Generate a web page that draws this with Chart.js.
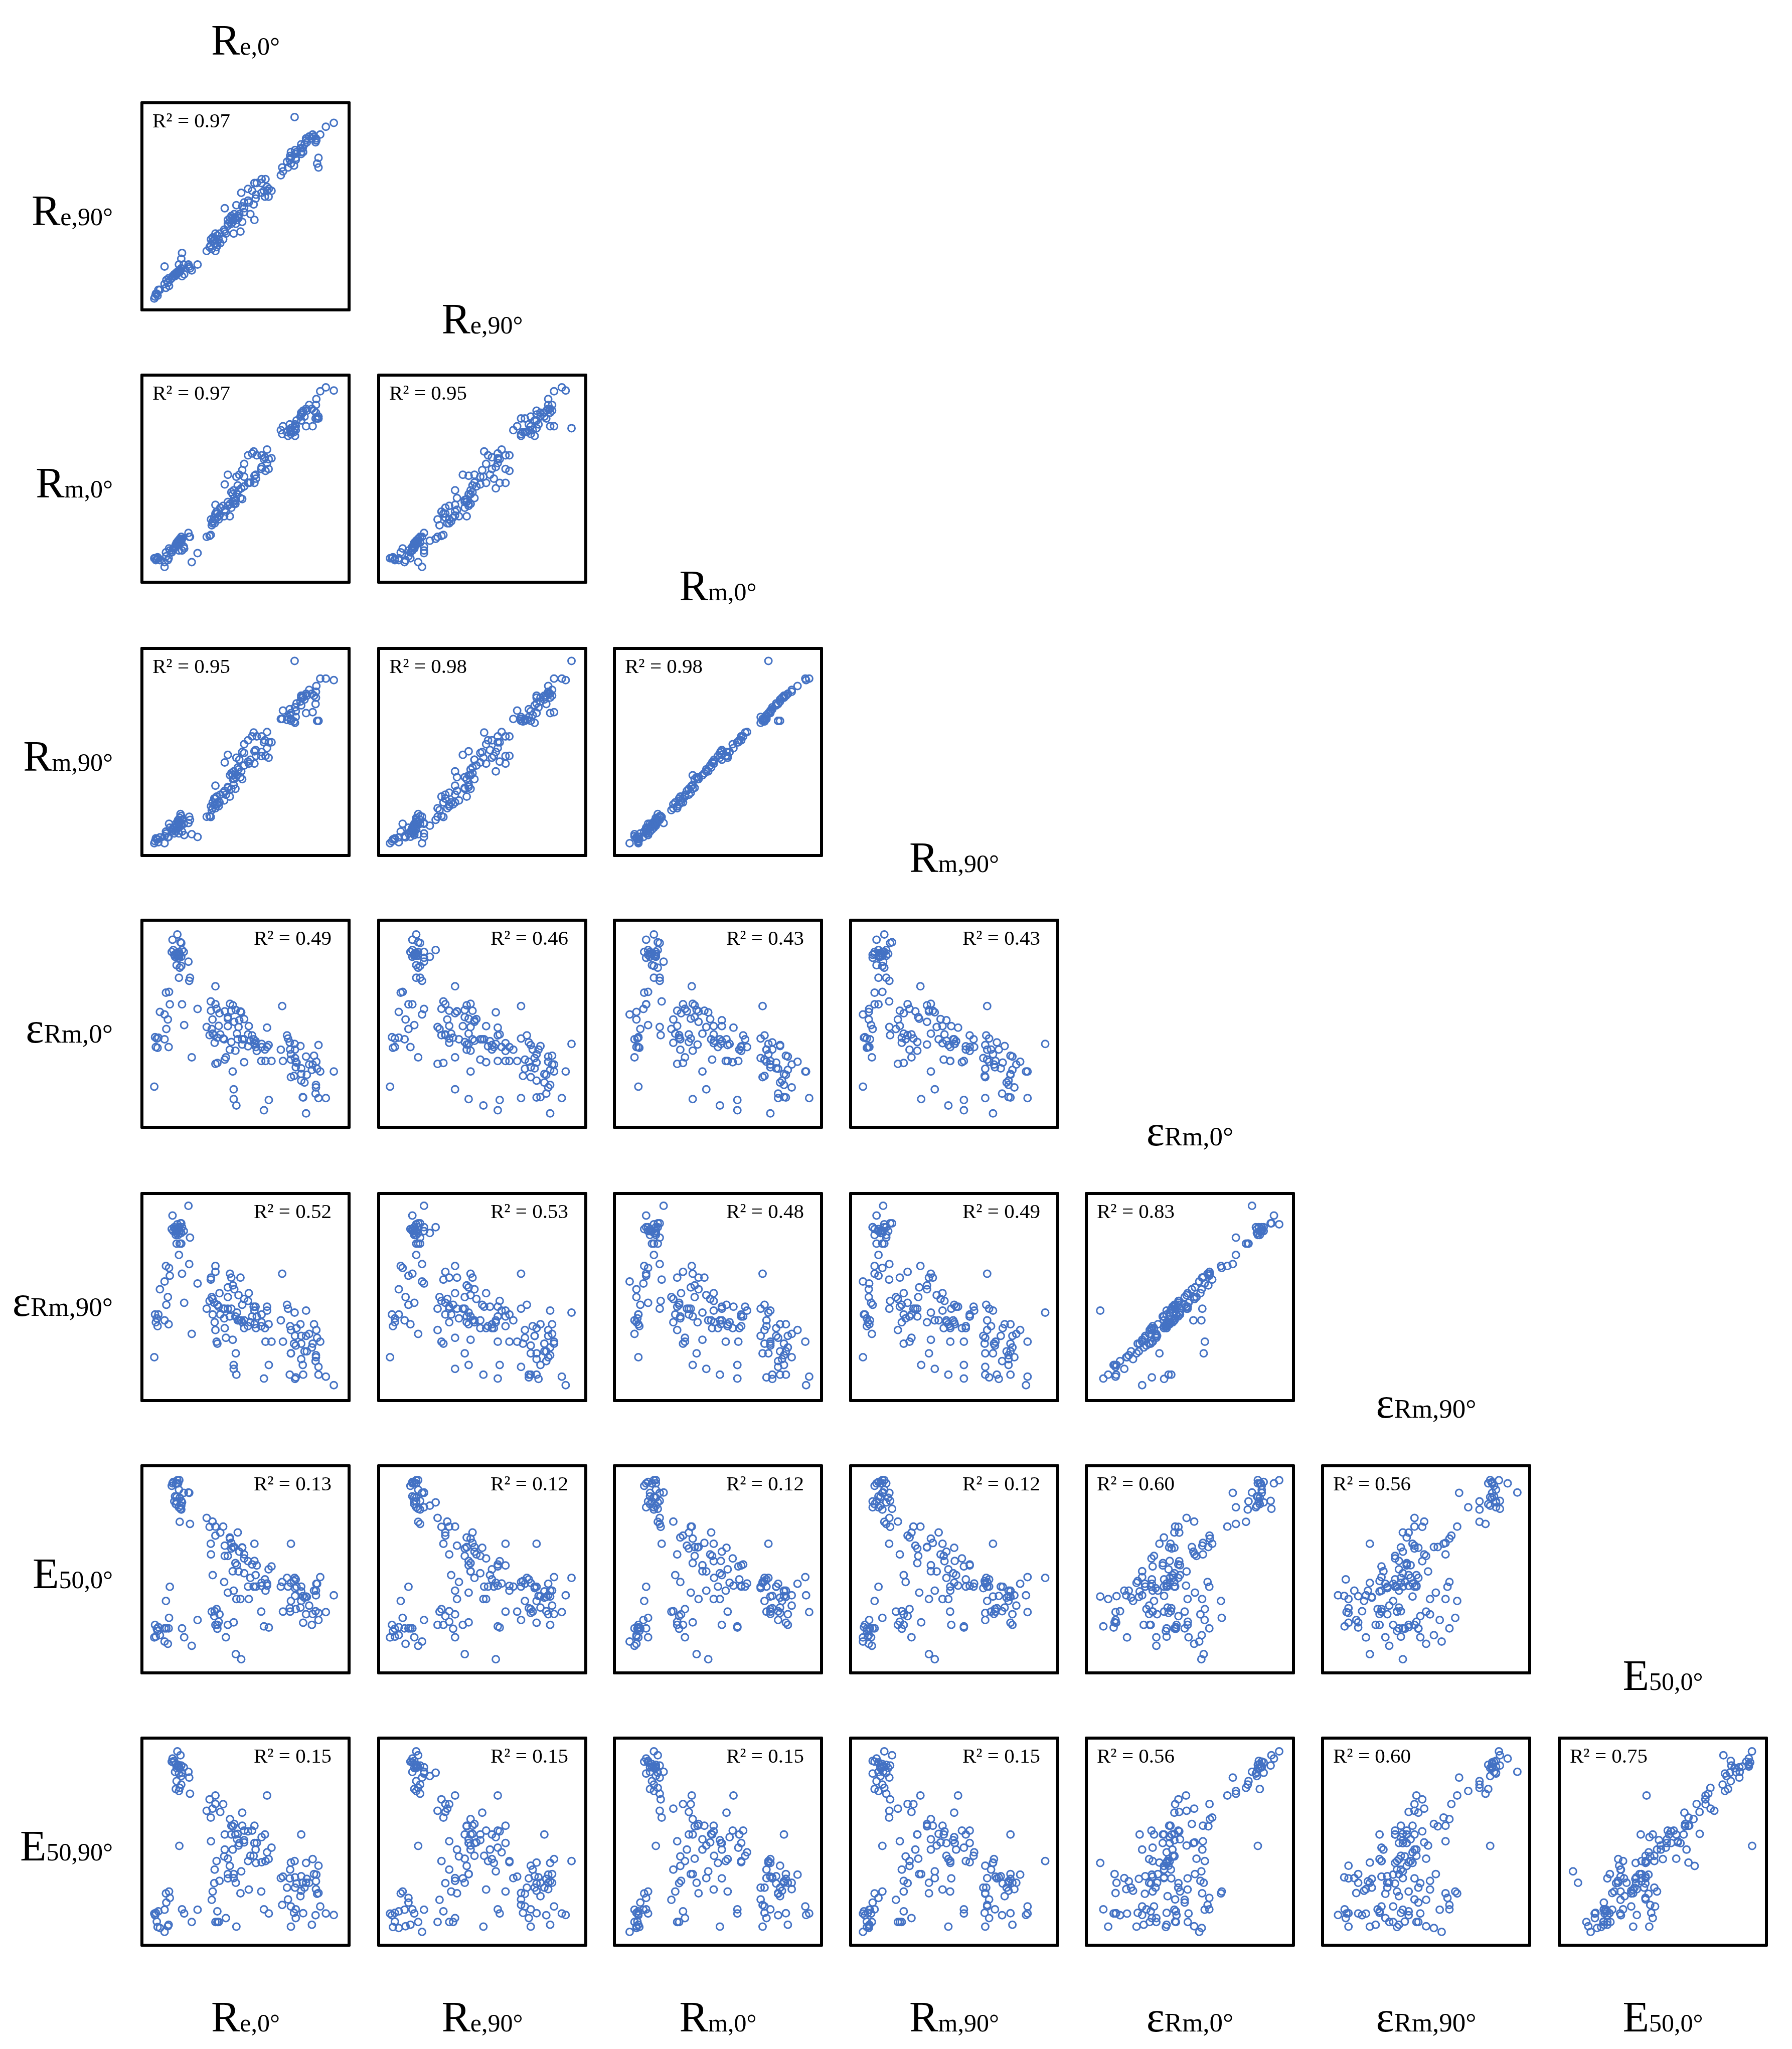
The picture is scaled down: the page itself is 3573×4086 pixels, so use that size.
<!DOCTYPE html>
<html><head><meta charset="utf-8">
<script src="https://cdn.jsdelivr.net/npm/chart.js@4/dist/chart.umd.min.js"></script>
<style>
html,body{margin:0;padding:0;background:#fff}
body{position:relative;width:3573px;height:4086px;overflow:hidden;font-family:"Liberation Serif",serif;color:#000}
.panel{position:absolute;width:407px;height:407px;border:6px solid #000;border-radius:2px;background:#fff}
.panel canvas{display:block}
.lab{position:absolute;line-height:100px;white-space:nowrap;height:100px}
.big{font-size:86px}.sub{font-size:50px}.eps{font-size:86px}.subE{font-size:53px}
.r2{position:absolute;font-size:41px;line-height:50px;white-space:nowrap;height:50px}
</style></head><body>
<script>
// Values, normalised to 0-100 of each variable's range.
const Re0=[3.4,5.1,4.3,8.3,9.2,10.4,4.7,3.8,3,5.9,8.3,10,10.6,9,11,17.3,18.4,25.3,22.3,
14.9,16.5,12.4,12,12.8,14.1,15.3,15.7,16.9,18.2,16.1,14.5,13.7,20.6,17.3,16.9,21,14.5,16.9,14.1,16.1,15.7,21.4,13.3,14.9,15.7,15.9,
30,31.5,32.1,32.2,33,33.1,32.6,33.9,34.1,34.5,34.5,34.5,35.5,35.5,36.2,35.1,36.6,37,38.5,39,
39.3,39.3,39.9,40.9,40.9,40.9,41.9,42,42.7,42.7,43.4,43.5,43.9,43.9,44.2,44.8,45,45.3,45.6,46,
46.4,46.8,47.4,47.8,48.3,48.3,49.3,49.3,49.3,51.3,51.3,51.7,52.5,53.4,54.2,54.6,54.6,55.2,55.4,55.8,
58.1,58.3,58.3,59.5,60,60.3,61.1,61.1,61.9,62,63.4,
68.2,68.9,69.3,71.4,71.9,72.8,73,73.4,73.4,73.4,75,75.3,75.5,75.5,75.9,75.9,76.3,78.3,78.7,78.7,
78.7,79.5,79.7,80.4,81.2,81.2,81.6,82.8,84.2,84.6,85.3,86.5,86.1,86.3,86.3,86.9,87.6,87.6,88.5,91.4,95.5];
const Re90=[3.5,7,5,10,12,13,4,5,2.5,7,19,10.5,9,8,12,14,15,20,17,
16,17,14,13,14,15,16,17,18,20,16,15,14,20,26,23,19,16,18,15,17,16,18,15,16,20,17,
27,29,30,33,32,34,28,31,33,36,31,27,30,35,33,29,36,31,33,38,
49,37,36,41,43,40,42,44,45,41,44,42,43,36,46,44,41,50.6,43,45,
44,46,37,57,50,42,52,49,47,59,53,52,46,58,51,62,43,54,56,62,
62,57,64,58,55,64,60,58,55,59,58,
66,70,68,73,70,74,76,78,72,75,71,96,79,77,75,74,78,80,77,82,
78,80,78,82,85,84,83,86,85,87,86,84,83,85,84,72,75,70,87,91,93];
const Rm0=[9,9,8.5,7,10,9,9.5,8,9,8,4.5,8,14,12,13,13,14,11.6,7,
17,19,13,12,14,16,18,18,20,15,18,17,15,22,19,18,20,16,17,15,19,17,20,14,16,13,18,
20,20.5,21,29,27,28,26,30,27,36.5,32,29,32,30,29,33,31,35,36,30.6,
47,34,33,38,36,52,30.6,37,43,35,42,38,37,44,40,37,39,51,42,46.5,
44,52,40,45,54.4,39.5,57.6,51,46,47.8,62,47.8,48,63,64,47.8,51.5,52,50,62,
55,56,62,60,61,54,65,58,55,60,60.5,
75,73,77,74,72,78,75,76,74,73,74,76,78,72,77,75,80,82,80,84,
83,84,85,82,77,86,85,88,86,77,85,91,81,84,88,81,82,81,95,97,95.4];
const Rm90=[4,3.5,5,6.6,8,6.3,5,5.5,3,6,3,6,13,9,11,9,7.2,6.2,7.6,
14,18,10,9,11,13,15,14,17,13,16,12,11,13.4,15,12,16.6,10,13,9,14,11,15,8,12,8,13,
16.6,17,16.5,22,21,24,20,26,23,32.6,26,21,24,23,22,27,24,28,29,25,
44.6,30,28,31.5,32,48.5,27,38,39,31,38,36,33,40,36,31,37,47,38,42,
41,46,37,40,50,36,54,49.5,43,45,56,44,46,58,60,44,50.3,51,48,58,
47.9,50,58,55,56,48,60.3,52,47,55,55,
67,67,71.3,66.5,68,72,69,70,67,66,65.7,96.9,73,65,71,68,75,76,74,79,
78,78,79,77,70,80,79,82,80,70.5,79,84,74.7,78,81,66,66,66,87.8,87.8,87];
const eR0=[43.1,42.8,42.4,42,47.3,38,37.6,38,17.6,56.1,54.8,52.2,66.4,66,60,60,49.3,57.6,32.7,
96,92,93.3,87,88,86,85,87,91.6,87,86,85,84.5,82,88,84.5,72.1,80.2,79.8,86,78.9,73.7,73.7,85.5,86.5,84,85,
48.3,44.1,61.5,56.7,52.2,44.9,47.3,44.1,40.2,69.3,60.1,29.3,29.8,42.8,48.9,57.7,55.4,44.5,42.4,42,
31.5,56.4,32.7,53.4,52.6,48.8,36.6,60.3,56.7,40.6,25.4,59.5,11.2,16.2,51,36.1,57.1,7.9,44.9,42,
48.3,51.8,56.3,55.9,42,39.3,30.2,42,52.4,44.5,38.4,48.8,41.2,44,42,40,39.6,41,38,36,
30.8,39.6,38,5.4,36.7,30.8,38,48,39,10.7,30.8,
36.6,59.1,30.8,44,42.4,40.4,36.7,34.3,31.5,22.5,23.1,39.6,36.7,32.3,27.6,30.4,30,38.5,27,24.1,
20.7,12.2,12,19.7,3.8,33.1,23.7,29,26.2,29,33.5,30.4,14,18.5,17.2,26.8,39,11.7,25.4,11.7,25.4];
const eR90=[41,41,39,38,46,36,35,37,19,54,58,50,65,66,61,62,47,57,31,
87.5,88,92,85,84,84,82,86,88,84,84,83,85,97,86,83,67,77.5,77.5,82,77.5,71.7,80.6,86,84,86,83,
44,48,59,60,49,41,50,47,37,66,63,33,26,46,45,27,52,41,44,39,
34,44,29,50,55,44,40,62,60,44,28,56,15,13,54,40,21,10,42,38,
51,38,60,38,46,37,34,38,49,48,35,52,37,40,45,43,36,45,34,40,
35,37,41,8,34,27,43,45,36,15,27,
38,62,27,46,44,10,35,21,33,21,26,42,7.8,30,25,8.6,34,36,30,26,
18,15,10,22,43,30,22,31,24,26,36,33,17,20,19,29,10,14,27,9,4.6];
const E0=[21.4,20.2,19.4,19.6,19.6,19.6,18.2,15.3,14.9,16.1,12.8,11.6,25,33.7,41,19.6,15,23.9,10.6,
95.9,81.2,94.3,93,95,94.3,94.3,91,85.3,89.4,86.9,87.3,87.6,89.6,84.5,82.8,89.4,85,80.8,83.6,74.5,82,73.4,85,94.3,82,96,
76.5,71.9,63.2,57.7,74.6,47,28.2,25.9,28.4,72,67.4,21.4,21.4,19.4,23,29.5,26.8,68.9,72,43.5,
56.9,62.2,15,56.9,38,21.4,66.4,65.8,63.6,60.7,49,61.5,22.7,39,61.5,53.2,6.3,34.7,52.1,69,
48.9,59.1,34.7,3.7,61.1,61.3,55.6,48,57.7,54.2,41.1,34.7,45.6,52.5,41.1,63.2,54.3,47,41.1,52,
28.2,43.1,41.5,20.6,44.8,39,42.7,41.6,50,20,51.5,
41.1,43.5,28.2,45.6,41.1,30,28.2,63.2,33.7,43,44,45.6,36.3,40.3,29.5,44.8,41,30.3,41.1,38.6,
33.7,36.2,22.5,35.4,36,26.9,35.8,31.3,21.4,27,39,42.6,28.4,39,36.6,42.6,27.5,23.9,46,28,36.6];
const E90=[12.1,14.1,8.8,14.9,18.6,7.2,6,13.3,12.9,5.5,3.5,6.4,24.3,23.3,21,15.1,13,14.9,8.6,
96.5,94.5,92.8,91.2,90.8,90,89.6,88.7,89.2,88.3,87.9,87.9,85.9,86,85.5,83.8,83,81.2,79.4,77.1,77.7,76.1,74.7,91.6,88.7,85.1,47.8,
65.9,71.8,62.4,50.2,67,24.3,20,28.6,35.6,73.8,69.4,8.6,14.1,8.6,8.6,40,29.8,65.3,69.3,42.4,
53.7,45.9,10.6,41.2,33.3,31.1,37.5,61.6,58.2,53.7,45.9,57.9,33.3,31.2,59.1,53.7,28.8,6.2,51.2,54,
48,49.2,23.4,34.7,64.9,58.2,55.7,50.8,49.6,55.3,40,25.3,42.7,55.7,42.7,58.2,49.3,45.9,39,49.3,
24.3,52.3,39.4,15.1,53.7,40,44.5,73.8,41,13,46.9,
31.2,17.4,32,26.3,20.2,31.1,35.6,39.2,16.6,6.2,13.3,40,31.6,26.3,15.1,10.6,28.4,21.9,32.2,53.7,
24.7,28.8,13.1,26.3,39,28.8,30.8,28.8,7.2,41,33.3,33,12.1,29.6,25.5,23.1,37.6,23.5,16.6,13,12.2];

const columnVars=[Re0,Re90,Rm0,Rm90,eR0,eR90,E0];
const rowVars=[Re90,Rm0,Rm90,eR0,eR90,E0,E90];
const columnLabels=[["R","e,0°"],["R","e,90°"],["R","m,0°"],["R","m,90°"],["ε","Rm,0°"],["ε","Rm,90°"],["E","50,0°"]];
const rowLabels=[["R","e,90°"],["R","m,0°"],["R","m,90°"],["ε","Rm,0°"],["ε","Rm,90°"],["E","50,0°"],["E","50,90°"]];
const r2Values=[["0.97"],["0.97","0.95"],["0.95","0.98","0.98"],["0.49","0.46","0.43","0.43"],
["0.52","0.53","0.48","0.49","0.83"],["0.13","0.12","0.12","0.12","0.60","0.56"],["0.15","0.15","0.15","0.15","0.56","0.60","0.75"]];

const colLeft=[280,752,1222,1693,2163,2634,3106];
const rowTop=[202,745,1290,1832,2377,2920,3463];
const topGap=[94,81,94,94,94,94,94];
const BOX=419;

function label(parts,style){
  const d=document.createElement('div');d.className='lab';
  const e=parts[0]==='ε';
  d.innerHTML='<span class="'+(e?'eps':'big')+'">'+parts[0]+'</span><span class="'+(e?'subE':'sub')+'">'+parts[1]+'</span>';
  Object.assign(d.style,style);document.body.appendChild(d);return d;
}
function topLabel(parts,cx,baseline){
  label(parts,{top:(baseline-78)+'px',left:cx+'px',transform:'translateX(-50%)'});
}
rowVars.forEach((ys,r)=>{
  columnVars.slice(0,r+1).forEach((xs,c)=>{
    const p=document.createElement('div');p.className='panel';
    p.style.left=colLeft[c]+'px';p.style.top=rowTop[r]+'px';
    const cv=document.createElement('canvas');cv.width=407;cv.height=407;cv.style.width='407px';cv.style.height='407px';
    p.appendChild(cv);document.body.appendChild(p);
    new Chart(cv.getContext('2d'),{type:'scatter',
      data:{datasets:[{data:xs.map((x,i)=>({x:x,y:ys[i]})),showLine:false,pointStyle:'circle',pointRadius:7,
        pointBorderWidth:3,pointBorderColor:'#4472C4',pointBackgroundColor:'rgba(0,0,0,0)'}]},
      options:{responsive:false,animation:false,devicePixelRatio:1,layout:{padding:0},
        plugins:{legend:{display:false},tooltip:{enabled:false}},
        scales:{x:{type:'linear',min:0,max:100,display:false},y:{type:'linear',min:0,max:100,display:false}}}});
    const t=document.createElement('div');t.className='r2';t.textContent='R² = '+r2Values[r][c];
    t.style.top=(rowTop[r]+52-39)+'px';
    if(r>=3&&c<=3){t.style.left=(colLeft[c]+BOX-38)+'px';t.style.transform='translateX(-100%)';}
    else{t.style.left=(colLeft[c]+24)+'px';}
    document.body.appendChild(t);
  });
  label(rowLabels[r],{top:(rowTop[r]+BOX/2+36-78)+'px',right:(3573-225)+'px'});
  topLabel(columnLabels[r],colLeft[r]+BOX/2,rowTop[r]-topGap[r]);
  topLabel(columnLabels[r],colLeft[r]+BOX/2,4050);
});
</script>
</body></html>
